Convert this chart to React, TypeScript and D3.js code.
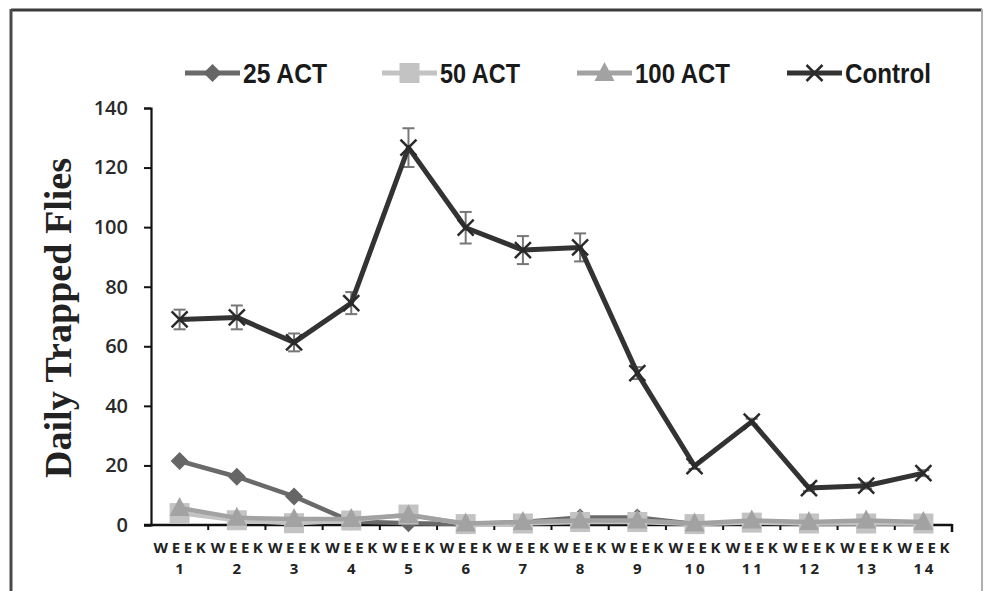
import { useEffect, useRef } from "react";
import * as d3 from "d3";

const weeks = ["1", "2", "3", "4", "5", "6", "7", "8", "9", "10", "11", "12", "13", "14"];
const act25 = [21.5, 16.2, 9.6, 1.2, 0.6, 0.3, 1, 2.5, 2.5, 0.3, 1, 0.5, 1, 0.5];
const act50 = [4, 1.6, 0.6, 1.5, 3.5, 0.3, 0.5, 1, 1, 0.3, 0.8, 0.5, 0.5, 0.5];
const act100 = [5.7, 2.4, 2, 2, 3.3, 0.5, 1, 1.5, 1.5, 0.5, 1.5, 1, 1.5, 1];
const control = [69, 69.7, 61.3, 74.5, 126.7, 99.8, 92.3, 93.2, 51, 19.8, 34.7, 12.4, 13.2, 17.4];
const controlErr = [3.3, 4, 3, 3.7, 6.5, 5.3, 4.7, 4.7, 2, 1, 1, 1, 1, 1];
const yTicks = [0, 20, 40, 60, 80, 100, 120, 140];
const legendNames = ["25 ACT", "50 ACT", "100 ACT", "Control"];

export default function App() {
    const svgRef = useRef<SVGSVGElement>(null);

    useEffect(() => {
        const svg = d3.select(svgRef.current);
        svg.selectAll("*").remove();

        const x = d3.scaleBand().domain(weeks).range([151, 952]);
        const y = d3.scaleLinear().domain([0, 140]).range([525, 108]);
        const cx = (i: number) => x(weeks[i])! + x.bandwidth() / 2;

        // frame
        svg.append("line").attr("x1", 11).attr("x2", 982).attr("y1", 10).attr("y2", 10)
            .attr("stroke", "#3a3a3a").attr("stroke-width", 3);
        svg.append("line").attr("x1", 11).attr("x2", 11).attr("y1", 9).attr("y2", 591)
            .attr("stroke", "#4a4a4a").attr("stroke-width", 3);
        svg.append("line").attr("x1", 982).attr("x2", 982).attr("y1", 9).attr("y2", 591)
            .attr("stroke", "#b0b0b0").attr("stroke-width", 2);

        // y axis
        const yAxis = svg.append("g").attr("transform", "translate(151,0)")
            .call(d3.axisLeft(y).tickValues(yTicks).tickSize(7).tickPadding(16));
        yAxis.select(".domain").attr("stroke", "#111").attr("stroke-width", 2.2);
        yAxis.selectAll(".tick line").attr("stroke", "#111").attr("stroke-width", 2);
        yAxis.selectAll(".tick text")
            .attr("fill", "#2a2a2a").style("font-family", "'Open Sans'")
            .style("font-size", "20px").style("font-weight", 600);

        // x axis
        svg.append("line").attr("x1", 144).attr("x2", 952).attr("y1", y(0)).attr("y2", y(0))
            .attr("stroke", "#111").attr("stroke-width", 2.5);
        const bounds = weeks.map((w) => x(w)! + x.bandwidth()).slice(0, -1);
        bounds.forEach((b) => {
            svg.append("line").attr("x1", b).attr("x2", b).attr("y1", y(0)).attr("y2", y(0) + 5)
                .attr("stroke", "#111").attr("stroke-width", 2);
        });
        svg.append("line").attr("x1", 952).attr("x2", 952).attr("y1", y(0) - 1).attr("y2", y(0) + 7)
            .attr("stroke", "#111").attr("stroke-width", 2.5);

        const xl = svg.append("g").style("font-family", "'Open Sans'").style("font-weight", 700)
            .style("font-size", "15px").attr("fill", "#222");
        weeks.forEach((w, i) => {
            xl.append("text").attr("x", cx(i)).attr("y", 553).attr("text-anchor", "middle")
                .attr("textLength", 52).attr("lengthAdjust", "spacing").text("WEEK");
            xl.append("text").attr("x", cx(i)).attr("y", 574).attr("text-anchor", "middle")
                .attr("textLength", w.length > 1 ? 20 : null).attr("lengthAdjust", "spacing").text(w);
        });

        // y label
        svg.append("text")
            .attr("transform", "translate(71,318) rotate(-90)")
            .attr("text-anchor", "middle")
            .style("font-family", "'Liberation Serif'").style("font-weight", 700)
            .style("font-size", "37px").attr("fill", "#222")
            .attr("textLength", 320).attr("lengthAdjust", "spacingAndGlyphs")
            .text("Daily Trapped Flies");

        const line = d3.line<number>().x((_, i) => cx(i)).y((d) => y(d));

        const markers: Record<string, (g: any, px: number, py: number) => void> = {
            diamond: (g, px, py) => g.append("path")
                .attr("d", `M${px},${py - 9}L${px + 9},${py}L${px},${py + 9}L${px - 9},${py}Z`)
                .attr("fill", "#666"),
            square: (g, px, py) => g.append("rect")
                .attr("x", px - 10).attr("y", py - 10).attr("width", 20).attr("height", 20)
                .attr("fill", "#c3c3c3"),
            triangle: (g, px, py) => g.append("path")
                .attr("d", `M${px},${py - 11}L${px + 10},${py + 8}L${px - 10},${py + 8}Z`)
                .attr("fill", "#a2a2a2"),
            cross: (g, px, py) => g.append("path")
                .attr("d", `M${px - 8},${py - 8}L${px + 8},${py + 8}M${px - 8},${py + 8}L${px + 8},${py - 8}`)
                .attr("stroke", "#2a2a2a").attr("stroke-width", 2.5).attr("fill", "none"),
        };

        const series = [
            { values: act25, color: "#6a6a6a", marker: "diamond", width: 4.5 },
            { values: act50, color: "#c3c3c3", marker: "square", width: 4.5 },
            { values: act100, color: "#a2a2a2", marker: "triangle", width: 4.5 },
            { values: control, color: "#333333", marker: "cross", width: 5 },
        ];

        // error bars on control
        const eb = svg.append("g").attr("stroke", "#777").attr("stroke-width", 2);
        control.forEach((v, i) => {
            const px = cx(i);
            const top = y(v + controlErr[i]);
            const bot = y(v - controlErr[i]);
            eb.append("line").attr("x1", px).attr("x2", px).attr("y1", top).attr("y2", bot);
            eb.append("line").attr("x1", px - 6).attr("x2", px + 6).attr("y1", top).attr("y2", top);
            eb.append("line").attr("x1", px - 6).attr("x2", px + 6).attr("y1", bot).attr("y2", bot);
        });

        series.forEach((s) => {
            const g = svg.append("g");
            g.append("path").datum(s.values).attr("d", line).attr("fill", "none")
                .attr("stroke", s.color).attr("stroke-width", s.width).attr("stroke-linejoin", "round");
            s.values.forEach((v, i) => markers[s.marker](g, cx(i), y(v)));
        });

        // legend
        const legendX = [185, 382, 577, 787];
        const legendY = 73;
        series.forEach((s, i) => {
            const g = svg.append("g");
            const lx = legendX[i];
            g.append("line").attr("x1", lx).attr("x2", lx + 55).attr("y1", legendY).attr("y2", legendY)
                .attr("stroke", s.color).attr("stroke-width", 5);
            markers[s.marker](g, lx + 27.5, legendY);
            const w = [84, 80, 95, 86][i];
            g.append("text").attr("x", lx + 58).attr("y", legendY + 10)
                .style("font-family", "'Liberation Sans'").style("font-weight", 700)
                .style("font-size", "27px").attr("fill", "#1a1a1a")
                .attr("textLength", w).attr("lengthAdjust", "spacingAndGlyphs").text(legendNames[i]);
        });
    }, []);

    return (
        <div style={{ position: "absolute", left: 0, top: 0 }}>
            <svg ref={svgRef} width={984} height={591} style={{ display: "block", background: "#fff" }} />
        </div>
    );
}
